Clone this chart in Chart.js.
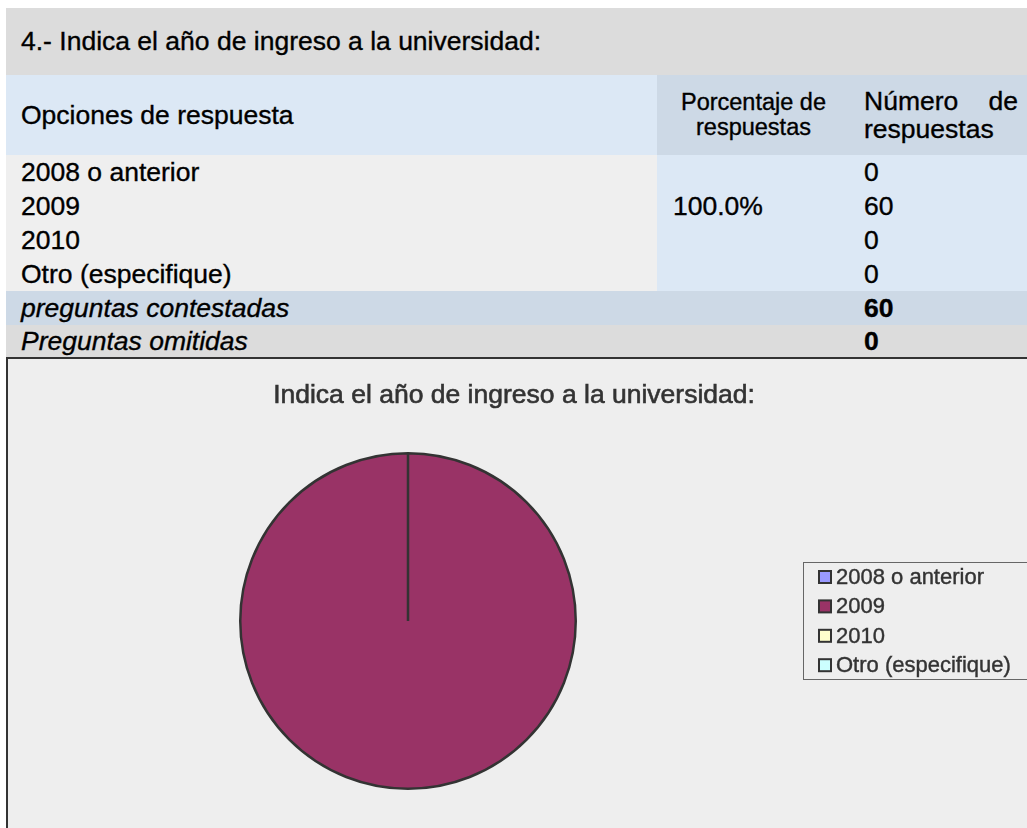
<!DOCTYPE html>
<html>
<head>
<meta charset="utf-8">
<script src="https://cdn.jsdelivr.net/npm/chart.js@4.4.1/dist/chart.umd.min.js"></script>
<style>
  html, body { margin: 0; padding: 0; background: #ffffff; overflow: hidden; }
  body { width: 1027px; height: 828px; position: relative; font-family: "Liberation Sans", Arial, sans-serif; }
  #survey { position: absolute; left: 6px; top: 8px; border-collapse: collapse; table-layout: fixed; width: 1100px; font-size: 26.5px; color: #000; -webkit-text-stroke: 0.35px #000; }
  #survey td { padding: 0; white-space: nowrap; overflow: hidden; }
  .title td { background: #dcdcdc; height: 67px; padding-left: 15px !important; }
  .head td { height: 80px; }
  .head .c1 { background: #dce8f5; padding-left: 15px !important; }
  .head .c2, .head .c3 { background: #cdd9e6; }
  .head .c2 { text-align: center; font-size: 23.5px; line-height: 25px; }
  .head .c3 { padding-left: 14px !important; }
  .just { width: 154px; text-align: justify; text-align-last: left; white-space: normal; line-height: 28px; }
  .just .l1 { text-align-last: justify; }
  .data td { height: 34px; line-height: 34px; }
  .data .c1 { background: #efefef; padding-left: 15px !important; }
  .data .c2 { background: #dce8f5; padding-left: 16px !important; }
  .data .c3 { background: #dce8f5; padding-left: 14px !important; }
  .sum td { height: 34px; line-height: 34px; font-style: italic; }
  .sum .c1 { padding-left: 15px !important; }
  .sum .c3 { padding-left: 14px !important; font-style: normal; font-weight: bold; }
  .answered td { background: #cdd9e6; }
  .skipped td { background: #dcdcdc; height: 33px; line-height: 33px; }
  #chartBox { position: absolute; left: 6px; top: 357px; width: 1100px; height: 480px; border: 2px solid #333333; background: #eeeeee; }
  #chartBox canvas { position: absolute; left: 0; top: 0; }
</style>
</head>
<body>
<table id="survey">
  <colgroup><col style="width:651px"><col style="width:193px"><col style="width:256px"></colgroup>
  <tbody id="rows"></tbody>
</table>
<div id="chartBox"><canvas id="pie" width="1100" height="480"></canvas></div>
<script>
const questionTitle = "4.- Indica el año de ingreso a la universidad:";
const chartTitle = "Indica el año de ingreso a la universidad:";
const categories = ["2008 o anterior", "2009", "2010", "Otro (especifique)"];
const counts = [0, 60, 0, 0];
const percentages = ["", "100.0%", "", ""];
const answeredLabel = "preguntas contestadas";
const skippedLabel = "Preguntas omitidas";
const answeredCount = 60;
const skippedCount = 0;
const sliceColors = ["#9999ff", "#993366", "#ffffcc", "#ccffff"];

/* ---------- table ---------- */
let html = `<tr class="title"><td colspan="3">${questionTitle}</td></tr>`;
html += `<tr class="head"><td class="c1">Opciones de respuesta</td>` +
        `<td class="c2">Porcentaje de<br>respuestas</td>` +
        `<td class="c3"><div class="just"><div class="l1">Número de</div>respuestas</div></td></tr>`;
categories.forEach((c, i) => {
    html += `<tr class="data"><td class="c1">${c}</td><td class="c2">${percentages[i]}</td><td class="c3">${counts[i]}</td></tr>`;
});
html += `<tr class="sum answered"><td class="c1">${answeredLabel}</td><td class="c2"></td><td class="c3">${answeredCount}</td></tr>`;
html += `<tr class="sum skipped"><td class="c1">${skippedLabel}</td><td class="c2"></td><td class="c3">${skippedCount}</td></tr>`;
document.getElementById("rows").innerHTML = html;

/* ---------- title + boxed legend ---------- */
const titleAndLegend = {
    id: "titleAndLegend",
    afterDraw(chart) {
        const ctx = chart.ctx;
        ctx.save();
        ctx.fillStyle = "#333333";
        ctx.strokeStyle = "#333333";
        ctx.lineWidth = 0.6;
        ctx.font = '26.5px "Liberation Sans", Arial, sans-serif';
        ctx.textAlign = "center";
        ctx.textBaseline = "middle";
        ctx.fillText(chartTitle, 506, 37);
        ctx.strokeText(chartTitle, 506, 37);

        // legend frame
        ctx.strokeStyle = "#666666";
        ctx.lineWidth = 1;
        ctx.strokeRect(795.5, 203.5, 400, 117);

        const ds = chart.data.datasets[0];
        ctx.font = '22px "Liberation Sans", Arial, sans-serif';
        ctx.textAlign = "left";
        chart.data.labels.forEach((label, i) => {
            const y = 218 + i * 29.4;
            ctx.fillStyle = ds.backgroundColor[i];
            ctx.fillRect(811, y - 6, 12, 12);
            ctx.strokeStyle = "#333333";
            ctx.lineWidth = 2;
            ctx.strokeRect(811, y - 6, 12, 12);
            ctx.fillStyle = "#333333";
            ctx.lineWidth = 0.4;
            ctx.fillText(label, 828, y + 1);
            ctx.strokeText(label, 828, y + 1);
        });
        ctx.restore();
    }
};

/* ---------- pie ---------- */
new Chart(document.getElementById("pie"), {
    type: "pie",
    data: {
        labels: categories,
        datasets: [{
            data: counts,
            backgroundColor: sliceColors,
            borderColor: "#333333",
            borderWidth: 2.5
        }]
    },
    options: {
        responsive: false,
        animation: false,
        layout: { padding: { left: 231, top: 93, right: 1100 - 569, bottom: 480 - 431 } },
        plugins: {
            legend: { display: false },
            title: { display: false },
            tooltip: { enabled: false }
        }
    },
    plugins: [titleAndLegend]
});
</script>
</body>
</html>
